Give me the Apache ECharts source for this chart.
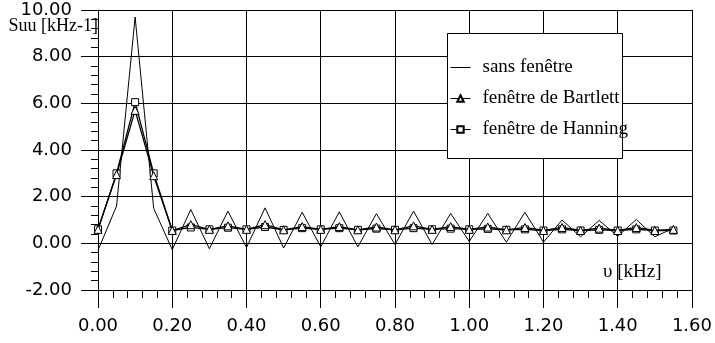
<!DOCTYPE html>
<html><head><meta charset="utf-8">
<script src="https://cdn.jsdelivr.net/npm/echarts@6/dist/echarts.min.js"></script>
<style>html,body{margin:0;padding:0;background:#fff}#c{width:715px;height:343px}</style>
</head><body><div id="c"></div>
<script>
// frequency [kHz]
const freq = [0.00,0.05,0.10,0.15,0.20,0.25,0.30,0.35,0.40,0.45,0.50,0.55,0.60,0.65,0.70,0.75,
              0.80,0.85,0.90,0.95,1.00,1.05,1.10,1.15,1.20,1.25,1.30,1.35,1.40,1.45,1.50,1.55];
// Suu [kHz-1]
const sansFenetre = [-0.30,1.60,9.70,1.50,-0.27,1.45,-0.23,1.38,-0.18,1.52,-0.20,1.33,-0.15,1.35,-0.15,1.27,
                     -0.05,1.38,-0.05,1.28,0.08,1.28,0.05,1.33,0.05,1.00,0.28,0.98,0.30,1.02,0.28,0.65];
const bartlett = [0.60,2.95,5.70,2.90,0.55,0.80,0.60,0.75,0.60,0.80,0.58,0.72,0.60,0.72,0.58,0.70,
                  0.58,0.75,0.60,0.72,0.60,0.70,0.58,0.68,0.55,0.68,0.55,0.65,0.55,0.68,0.55,0.60];
const hanning = [0.60,3.00,6.05,3.00,0.55,0.68,0.60,0.67,0.60,0.70,0.58,0.65,0.60,0.65,0.58,0.63,
                 0.58,0.65,0.60,0.63,0.60,0.62,0.58,0.60,0.55,0.60,0.55,0.58,0.55,0.60,0.55,0.55];
const seriesNames = ['sans fenêtre','fenêtre de Bartlett','fenêtre de Hanning'];
const yAxisTitle = 'Suu [kHz-1]';
const xAxisTitle = 'υ [kHz]';

const pairs = ys => freq.map((x,i)=>[x, ys[i]]);
const chart = echarts.init(document.getElementById('c'), null, {renderer:'canvas'});
const labelFont = {fontFamily:'DejaVu Sans', fontSize:18, color:'#000'};
const black = {color:'#000', width:1};
chart.setOption({
  animation:false,
  backgroundColor:'#fff',
  grid:{left:98, top:10, width:595, height:280},
  xAxis:{type:'value', min:0, max:1.6, interval:0.2,
    axisLine:{onZero:false, lineStyle:black},
    axisTick:{length:18, lineStyle:black},
    minorTick:{show:true, splitNumber:5, length:8, lineStyle:black},
    splitLine:{show:true, lineStyle:black},
    axisLabel:Object.assign({formatter:v=>v.toFixed(2), margin:27}, labelFont)},
  yAxis:{type:'value', min:-2, max:10, interval:2,
    axisLine:{show:true, onZero:false, lineStyle:black},
    axisTick:{show:true, length:17, lineStyle:black},
    minorTick:{show:true, splitNumber:5, length:7, lineStyle:black},
    splitLine:{show:true, lineStyle:black},
    axisLabel:Object.assign({formatter:v=>v.toFixed(2), margin:26}, labelFont)},
  legend:{data:[
      {name:seriesNames[0], icon:'path://M0,0H20V1H0Z'},
      {name:seriesNames[1]},
      {name:seriesNames[2]}],
    orient:'vertical', left:450, top:58, padding:0, itemWidth:20, itemHeight:8,
    itemGap:12, selectedMode:false, z:6,
    lineStyle:{width:1},
    textStyle:{fontFamily:'Liberation Serif', fontSize:19, color:'#000', padding:[0,0,0,7]}},
  graphic:[
    {type:'rect', z:5, shape:{x:447.5, y:33.5, width:175, height:125},
     style:{fill:'#fff', stroke:'#000', lineWidth:1}},
    {type:'text', z:5, style:{x:98, y:26, text:yAxisTitle, textAlign:'right', textVerticalAlign:'middle',
     font:'18px "Liberation Serif"', fill:'#000'}},
    {type:'text', z:5, style:{x:603, y:272, text:xAxisTitle, textAlign:'left', textVerticalAlign:'middle',
     font:'19px "Liberation Serif"', fill:'#000'}}
  ],
  series:[
    {name:seriesNames[0], type:'line', data:pairs(sansFenetre), symbol:'none',
     lineStyle:{color:'#000', width:1}, itemStyle:{color:'#000'}, z:3},
    {name:seriesNames[2], type:'line', data:pairs(hanning), symbol:'rect', symbolSize:7,
     lineStyle:{color:'#000', width:1.3}, itemStyle:{color:'#fff', borderColor:'#000', borderWidth:1}, z:3},
    {name:seriesNames[1], type:'line', data:pairs(bartlett), symbol:'triangle', symbolSize:8,
     lineStyle:{color:'#000', width:1.3}, itemStyle:{color:'#fff', borderColor:'#000', borderWidth:1}, z:4}
  ]
});
</script></body></html>
